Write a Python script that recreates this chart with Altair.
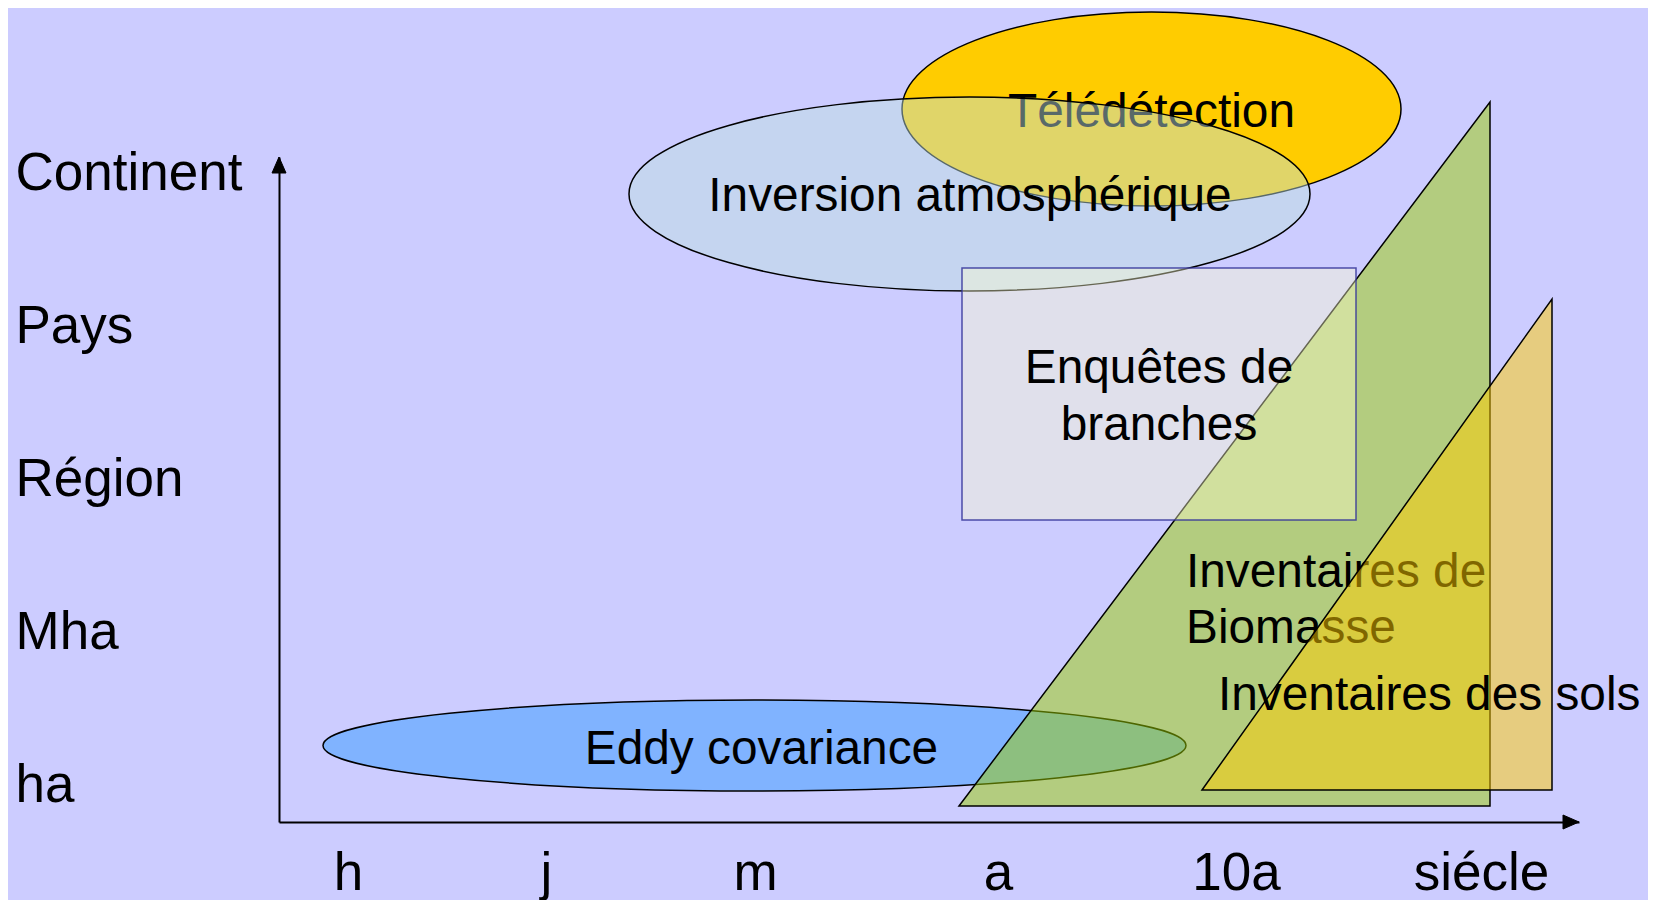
import altair as alt
import pandas as pd

# ---------------- data (positions in axis units, 1 unit = 100 px) ----------------
TIME_LABELS = ["h", "j", "m", "a", "10a", "siécle"]
TIME_POS = [0.69, 2.67, 4.76, 7.19, 9.57, 12.02]

SPACE_LABELS = ["ha", "Mha", "Région", "Pays", "Continent"]
SPACE_POS = [0.21, 1.74, 3.27, 4.80, 6.33]

# ellipses: Eddy covariance, Télédétection, Inversion atmosphérique
ELL_NAMES = ["Eddy covariance", "Télédétection", "Inversion atmosphérique"]
ELL_CX = [4.755, 8.725, 6.905]
ELL_CY = [0.765, 7.13, 6.28]
ELL_RX = [4.315, 2.495, 3.405]
ELL_RY = [0.455, 0.97, 0.97]
ELL_FILL = ["#80b3ff", "#ffcc00", "#bddfdf"]
ELL_ALPHA = [1.0, 1.0, 0.47]

# ellipse label positions (centre x, baseline y)
ELL_LX = [4.825, 8.725, 6.91]
ELL_LY = [0.58, 6.95, 6.11]

# rectangle: Enquêtes de branches
RECT_X = [6.83, 10.77]
RECT_Y = [3.02, 5.54]
RECT_LINES = ["Enquêtes de", "branches"]
RECT_LX = [8.80, 8.80]
RECT_LY = [4.39, 3.82]

# triangles (left vertex x, right side x ; base y, apex y)
GREEN_X = [6.80, 12.11]
GREEN_Y = [0.16, 7.20]
YELLOW_X = [9.23, 12.73]
YELLOW_Y = [0.32, 5.23]

BIO_LINES = ["Inventaires de", "Biomasse"]
BIO_LX = [9.07, 9.07]
BIO_LY = [2.35, 1.79]

SOL_LINES = ["Inventaires des sols"]
SOL_LX = [9.39]
SOL_LY = [1.12]

# ---------------- layout ----------------
W, H = 1300, 665
XDOM = [0, 13.0]
YDOM = [0, 6.65]
PX_X = W / (XDOM[1] - XDOM[0])
PX_Y = H / (YDOM[1] - YDOM[0])
FONT = "Liberation Sans"
INNER_FS = 47.8
AXIS_FS = 53

xs = alt.Scale(domain=XDOM, nice=False, zero=False)
ys = alt.Scale(domain=YDOM, nice=False, zero=False)


def ellipse_path(rx, ry):
    k = 0.5523
    a, b = rx, ry
    return (f"M {a} 0 C {a} {k*b} {k*a} {b} 0 {b} "
            f"C {-k*a} {b} {-a} {k*b} {-a} 0 "
            f"C {-a} {-k*b} {-k*a} {-b} 0 {-b} "
            f"C {k*a} {-b} {a} {-k*b} {a} 0 Z")


ell = pd.DataFrame({
    "name": ELL_NAMES,
    "x": ELL_CX,
    "y": ELL_CY,
    "path": [ellipse_path(rx * PX_X, ry * PX_Y) for rx, ry in zip(ELL_RX, ELL_RY)],
    "fill": ELL_FILL,
    "alpha": ELL_ALPHA,
    "lx": ELL_LX,
    "ly": ELL_LY,
})

x_axis = alt.Axis(
    values=TIME_POS,
    labelExpr="[" + ",".join(f"'{t}'" for t in TIME_LABELS) + "][indexof(["
    + ",".join(str(v) for v in TIME_POS) + "], datum.value)]",
    title=None, ticks=False, tickSize=0, grid=False,
    domain=True, domainColor="black", domainWidth=2,
    labelFont=FONT, labelFontSize=AXIS_FS, labelColor="black",
    labelPadding=67, labelBaseline="alphabetic", labelAlign="center",
    labelFlush=False, labelOverlap=False, labelLimit=0,
)
y_axis = alt.Axis(
    values=SPACE_POS,
    labelExpr="[" + ",".join(f"'{t}'" for t in SPACE_LABELS) + "][indexof(["
    + ",".join(str(v) for v in SPACE_POS) + "], datum.value)]",
    title=None, ticks=False, tickSize=0, grid=False,
    domain=True, domainColor="black", domainWidth=2,
    labelFont=FONT, labelFontSize=AXIS_FS, labelColor="black",
    labelPadding=264, labelBaseline="alphabetic", labelAlign="left",
    labelFlush=False, labelOverlap=False, labelLimit=0,
)


def point_layer(df, alpha):
    return alt.Chart(df).mark_point(
        filled=True, opacity=1, fillOpacity=alpha, stroke="black",
        strokeWidth=1.5, strokeOpacity=1,
    ).encode(
        x=alt.X("x:Q", scale=xs, axis=x_axis),
        y=alt.Y("y:Q", scale=ys, axis=y_axis),
        shape=alt.Shape("path:N", scale=None),
        fill=alt.Fill("fill:N", scale=None),
        size=alt.value(4),
    )


def text_layer(lines, lx, ly, align):
    df = pd.DataFrame({"t": lines, "x": lx, "y": ly})
    return alt.Chart(df).mark_text(
        align=align, baseline="alphabetic", font=FONT, fontSize=INNER_FS, color="black",
    ).encode(
        x=alt.X("x:Q", scale=xs),
        y=alt.Y("y:Q", scale=ys),
        text="t:N",
    )


def tri_layer(xv, yv, fill):
    df = pd.DataFrame({"x": xv, "y": [yv[0], yv[1]], "y2": [yv[0], yv[0]]})
    return alt.Chart(df).mark_area(
        fill=fill, fillOpacity=0.5, stroke="black", strokeWidth=1.5,
        interpolate="linear",
    ).encode(
        x=alt.X("x:Q", scale=xs),
        y=alt.Y("y:Q", scale=ys),
        y2="y2:Q",
    )


opaque_ell = point_layer(ell.iloc[[0, 1]], 1.0)
opaque_txt = text_layer([ELL_NAMES[0], ELL_NAMES[1]], ELL_LX[:2], ELL_LY[:2], "center")
inv_ell = point_layer(ell.iloc[[2]], ELL_ALPHA[2])
inv_txt = text_layer([ELL_NAMES[2]], ELL_LX[2:], ELL_LY[2:], "center")

green = tri_layer(GREEN_X, GREEN_Y, "#99cc00")

rect_df = pd.DataFrame({"x": [RECT_X[0]], "x2": [RECT_X[1]], "y": [RECT_Y[0]], "y2": [RECT_Y[1]]})
rect = alt.Chart(rect_df).mark_rect(
    fill="#ffffcc", fillOpacity=0.4, stroke="#333399", strokeOpacity=0.85, strokeWidth=1.5,
).encode(
    x=alt.X("x:Q", scale=xs), x2="x2:Q",
    y=alt.Y("y:Q", scale=ys), y2="y2:Q",
)
rect_txt = text_layer(RECT_LINES, RECT_LX, RECT_LY, "center")
bio_txt = text_layer(BIO_LINES, BIO_LX, BIO_LY, "left")

yellow = tri_layer(YELLOW_X, YELLOW_Y, "#ffcc00")
sol_txt = text_layer(SOL_LINES, SOL_LX, SOL_LY, "left")

arrows_df = pd.DataFrame({
    "x": [XDOM[1], XDOM[0]],
    "y": [YDOM[0], YDOM[1]],
    "path": ["M 0 0 L -16 -7 L -16 7 Z", "M 0 0 L -7 16 L 7 16 Z"],
})
arrows = alt.Chart(arrows_df).mark_point(
    filled=True, opacity=1, fill="black", stroke="black", strokeWidth=1,
).encode(
    x=alt.X("x:Q", scale=xs),
    y=alt.Y("y:Q", scale=ys),
    shape=alt.Shape("path:N", scale=None),
    size=alt.value(4),
)

chart = alt.layer(
    opaque_ell, opaque_txt, inv_ell, inv_txt, green, rect, rect_txt, bio_txt,
    yellow, sol_txt, arrows,
).properties(
    width=W, height=H,
    background="#ccccff",
    padding={"left": 271, "top": 149, "right": 69, "bottom": 78},
    autosize=alt.AutoSizeParams(type="none"),
).configure_view(stroke=None).configure_axis(zindex=1)

chart.save("out.html", embed_options={"renderer": "svg", "actions": False})
